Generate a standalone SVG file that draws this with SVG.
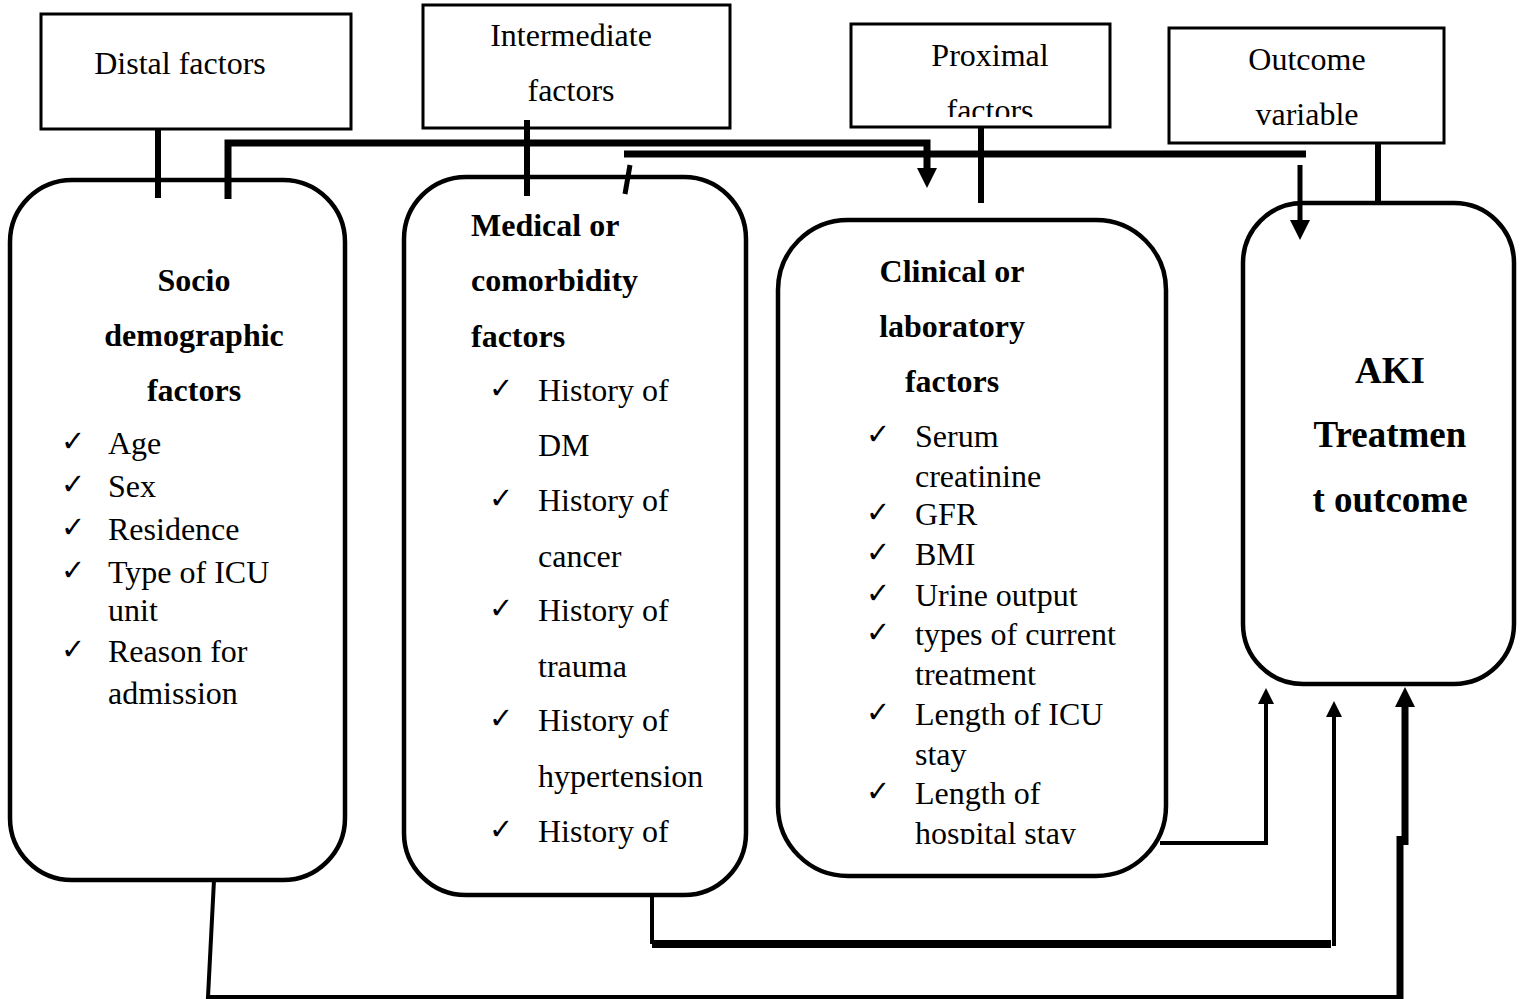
<svg xmlns="http://www.w3.org/2000/svg" width="1524" height="999" viewBox="0 0 1524 999">
<style>
.hbox{fill:#fff;stroke:#000;stroke-width:3}
.rbox{fill:#fff;stroke:#000;stroke-width:4.5}
.t{font-family:"Liberation Serif","Times New Roman",serif;font-size:32px;fill:#000}
.b{font-family:"Liberation Serif","Times New Roman",serif;font-size:32px;font-weight:bold;fill:#000}
.aki{font-family:"Liberation Serif","Times New Roman",serif;font-size:37px;font-weight:bold;fill:#000}
.ck{font-family:"DejaVu Sans",sans-serif;font-size:29px;fill:#000}
.c{fill:none;stroke:#000;stroke-linecap:butt;stroke-linejoin:miter}
</style>
<defs>
<marker id="ah" viewBox="0 0 10 10" refX="0" refY="5" markerWidth="22" markerHeight="20" markerUnits="userSpaceOnUse" orient="auto">
<path d="M0,0 L10,5 L0,10 Z" fill="#000"/>
</marker>
<marker id="ahs" viewBox="0 0 10 10" refX="0" refY="5" markerWidth="18" markerHeight="16" markerUnits="userSpaceOnUse" orient="auto">
<path d="M0,0 L10,5 L0,10 Z" fill="#000"/>
</marker>
<clipPath id="clipProx"><rect x="851" y="24" width="259" height="93"/></clipPath>
<clipPath id="clipClin"><rect x="778" y="220" width="388" height="624"/></clipPath>
</defs>
<rect width="1524" height="999" fill="#fff"/>

<g id="distal">
<rect class="hbox" x="41" y="14" width="310" height="115"/>
<text class="t" x="180" y="74" text-anchor="middle">Distal factors</text>
</g>
<g id="intermediate">
<rect class="hbox" x="423" y="5" width="307" height="123"/>
<text class="t" x="571" y="46" text-anchor="middle">Intermediate</text>
<text class="t" x="571" y="101" text-anchor="middle">factors</text>
</g>
<g id="proximal">
<rect class="hbox" x="851" y="24" width="259" height="103"/>
<g clip-path="url(#clipProx)">
<text class="t" x="990" y="66" text-anchor="middle">Proximal</text>
<text class="t" x="990" y="121" text-anchor="middle">factors</text>
</g>
</g>
<g id="outcome">
<rect class="hbox" x="1169" y="28" width="275" height="115"/>
<text class="t" x="1307" y="70" text-anchor="middle">Outcome</text>
<text class="t" x="1307" y="125" text-anchor="middle">variable</text>
</g>

<g id="socio">
<rect class="rbox" x="10" y="180" width="335" height="700" rx="62"/>
<text class="b" x="194" y="291" text-anchor="middle">Socio</text>
<text class="b" x="194" y="346" text-anchor="middle">demographic</text>
<text class="b" x="194" y="401" text-anchor="middle">factors</text>
<text class="ck" x="61" y="451">✓</text><text class="t" x="108" y="454">Age</text>
<text class="ck" x="61" y="494">✓</text><text class="t" x="108" y="497">Sex</text>
<text class="ck" x="61" y="537">✓</text><text class="t" x="108" y="540">Residence</text>
<text class="ck" x="61" y="580">✓</text><text class="t" x="108" y="583">Type of ICU</text>
<text class="t" x="108" y="621">unit</text>
<text class="ck" x="61" y="659">✓</text><text class="t" x="108" y="662">Reason for</text>
<text class="t" x="108" y="704">admission</text>
</g>

<g id="medical">
<rect class="rbox" x="404" y="177" width="342" height="718" rx="62"/>
<text class="b" x="471" y="236">Medical or</text>
<text class="b" x="471" y="291">comorbidity</text>
<text class="b" x="471" y="347">factors</text>
<text class="ck" x="489" y="398">✓</text><text class="t" x="538" y="401">History of</text>
<text class="t" x="538" y="456">DM</text>
<text class="ck" x="489" y="508">✓</text><text class="t" x="538" y="511">History of</text>
<text class="t" x="538" y="567">cancer</text>
<text class="ck" x="489" y="618">✓</text><text class="t" x="538" y="621">History of</text>
<text class="t" x="538" y="677">trauma</text>
<text class="ck" x="489" y="728">✓</text><text class="t" x="538" y="731">History of</text>
<text class="t" x="538" y="787">hypertension</text>
<text class="ck" x="489" y="839">✓</text><text class="t" x="538" y="842">History of</text>
</g>

<g id="clinical">
<rect class="rbox" x="778" y="220" width="388" height="656" rx="70"/>
<text class="b" x="952" y="282" text-anchor="middle">Clinical or</text>
<text class="b" x="952" y="337" text-anchor="middle">laboratory</text>
<text class="b" x="952" y="392" text-anchor="middle">factors</text>
<g clip-path="url(#clipClin)">
<text class="ck" x="866" y="444">✓</text><text class="t" x="915" y="447">Serum</text>
<text class="t" x="915" y="487">creatinine</text>
<text class="ck" x="866" y="522">✓</text><text class="t" x="915" y="525">GFR</text>
<text class="ck" x="866" y="562">✓</text><text class="t" x="915" y="565">BMI</text>
<text class="ck" x="866" y="603">✓</text><text class="t" x="915" y="606">Urine output</text>
<text class="ck" x="866" y="642">✓</text><text class="t" x="915" y="645">types of current</text>
<text class="t" x="915" y="685">treatment</text>
<text class="ck" x="866" y="722">✓</text><text class="t" x="915" y="725">Length of ICU</text>
<text class="t" x="915" y="765">stay</text>
<text class="ck" x="866" y="801">✓</text><text class="t" x="915" y="804">Length of</text>
<text class="t" x="915" y="844">hospital stay</text>
</g>
</g>

<g id="aki">
<rect class="rbox" x="1243" y="203" width="271" height="481" rx="60"/>
<text class="aki" x="1390" y="383" text-anchor="middle">AKI</text>
<text class="aki" x="1390" y="447" text-anchor="middle">Treatmen</text>
<text class="aki" x="1390" y="512" text-anchor="middle">t outcome</text>
</g>

<g id="connectors">
<path class="c" d="M158,129 V198" stroke-width="6"/>
<path class="c" d="M228,199 V143 H927 V168" stroke-width="7" marker-end="url(#ah)"/>
<path class="c" d="M527,120 V196" stroke-width="6"/>
<path class="c" d="M625,194 L630,165" stroke-width="5"/>
<path class="c" d="M624,154 H1306" stroke-width="7"/>
<path class="c" d="M1300,165 V220" stroke-width="5" marker-end="url(#ah)"/>
<path class="c" d="M981,127 V203" stroke-width="6"/>
<path class="c" d="M1378,143 V204" stroke-width="6"/>
<path class="c" d="M1160,843 H1266 V704" stroke-width="4" marker-end="url(#ahs)"/>
<path class="c" d="M652,895 V944" stroke-width="4"/>
<path class="c" d="M652,944 H1331" stroke-width="8"/>
<path class="c" d="M1334,946 V717" stroke-width="4" marker-end="url(#ahs)"/>
<path class="c" d="M214,880 L208,997 H1400" stroke-width="4"/>
<path class="c" d="M1400,999 V836" stroke-width="7"/>
<path class="c" d="M1405,845 V707" stroke-width="7" marker-end="url(#ah)"/>
</g>
</svg>
